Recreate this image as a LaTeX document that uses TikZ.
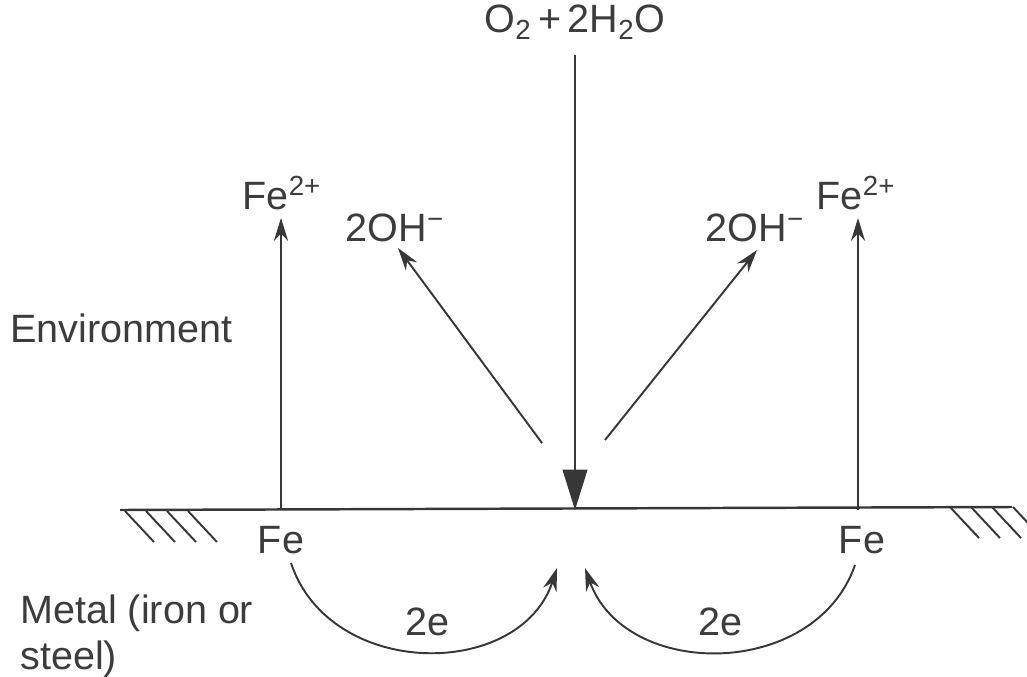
\documentclass[tikz,border=0pt]{standalone}
\usepackage{fontspec}
\setmainfont{Liberation Sans}
\usetikzlibrary{arrows.meta, positioning, calc}
\definecolor{inkgray}{RGB}{55,55,55}
\definecolor{textgray}{RGB}{60,60,60}

\begin{document}
\begin{tikzpicture}[x=0.02cm, y=-0.02cm,
      lbl/.style={text=textgray, font=\fontsize{22.5}{27}\selectfont, inner sep=0pt},
      surface/.style={draw=inkgray, line width=1.4pt},
      hatch/.style={draw=inkgray, line width=1.1pt},
      flow/.style={-{Stealth[length=13pt, width=8pt]}, line width=1.1pt, color=inkgray},
      inflow/.style={-{Triangle[length=23pt, width=14pt]}, line width=1.3pt, color=inkgray}
    ]
      \useasboundingbox (0,0) rectangle (1027,676);
      % --- Surface between environment and metal ---
      \coordinate (sL) at (120,510);
      \coordinate (sR) at (1012,507);
      \coordinate (mid) at (575,510);
      \draw[surface] (sL) -- (sR);
      \foreach \x in {125,146,167,188}
        \draw[hatch] (\x,511) -- ++(29,31);
      \foreach \x in {950,971,992,1013}
        \draw[hatch] (\x,507) -- ++(29,31);
      % --- Labels above the surface ---
      \node[lbl] (oxy) at (575,22) {O\textsubscript{2}\,+\,2H\textsubscript{2}O};
      \node[lbl] (feupL) at (282,193) {Fe\textsuperscript{2+}};
      \node[lbl] (feupR) at (856,193) {Fe\textsuperscript{2+}};
      \node[lbl] (ohL) at (395,228) {2OH\textsuperscript{−}};
      \node[lbl] (ohR) at (755,228) {2OH\textsuperscript{−}};
      \node[lbl, anchor=west] (env) at (10,328) {Environment};
      % --- Labels below the surface ---
      \node[lbl] (feL) at (281,540) {Fe};
      \node[lbl] (feR) at (862,540) {Fe};
      \node[lbl, anchor=north west, align=left, font=\fontsize{22.5}{26.5}\selectfont]
        (metal) at (20,594) {Metal (iron or\\steel)};
      % --- Arrows: iron leaves, oxygen comes in ---
      \coordinate (baseL) at (281,510);
      \coordinate (baseR) at (858,510);
      \draw[flow] (baseL) -- (281,218);
      \draw[flow] (baseR) -- (858,218);
      \draw[inflow] (575,55) -- (mid);
      \coordinate (ohstartL) at (542,443);
      \coordinate (ohstartR) at (605,440);
      \draw[flow] (ohstartL) -- (398,248);
      \draw[flow] (ohstartR) -- (757,250);
      % --- Electrons through the metal ---
      \coordinate (eL) at (291,563);
      \coordinate (eR) at (855,565);
      \coordinate (sinkL) at (557,568);
      \coordinate (sinkR) at (585,568);
      \draw[flow] (eL) .. controls (330,680) and (520,680) .. (sinkL);
      \draw[flow] (eR) .. controls (815,680) and (625,680) .. (sinkR);
      \node[lbl] (elL) at (427,622) {2e};
      \node[lbl] (elR) at (720,622) {2e};
    \end{tikzpicture}
\end{document}
